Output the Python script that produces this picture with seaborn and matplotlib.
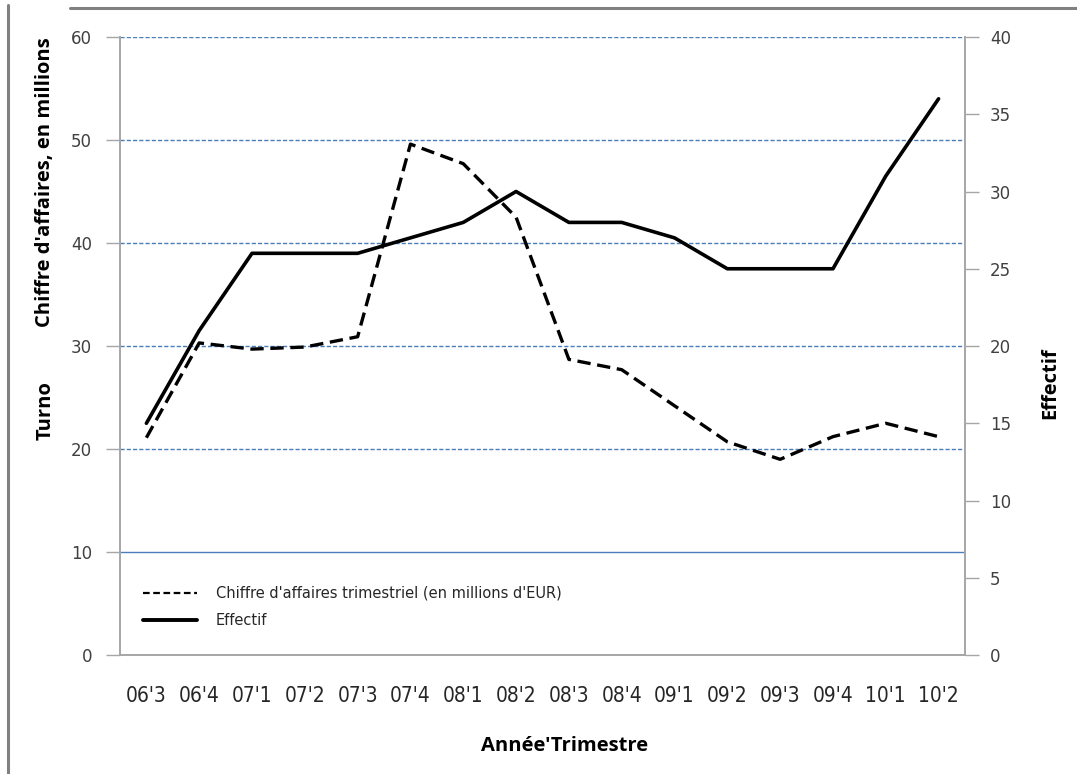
"""Chiffre d'affaires trimestriel et effectif, double axe."""

import numpy as np
import pandas as pd
import seaborn as sns
import matplotlib.pyplot as plt
from matplotlib.lines import Line2D

quarters = ["06'3", "06'4", "07'1", "07'2", "07'3", "07'4", "08'1", "08'2",
            "08'3", "08'4", "09'1", "09'2", "09'3", "09'4", "10'1", "10'2"]
turnover = [21.1, 30.3, 29.7, 29.9, 30.9, 49.6, 47.7, 42.5,
            28.7, 27.7, 24.2, 20.7, 19.0, 21.2, 22.5, 21.2]
headcount = [15, 21, 26, 26, 26, 27, 28, 30, 28, 28, 27, 25, 25, 25, 31, 36]

left_ticks = [0, 10, 20, 30, 40, 50, 60]
right_ticks = [0, 5, 10, 15, 20, 25, 30, 35, 40]

df = pd.DataFrame({"pos": np.arange(len(quarters)), "quarter": quarters,
                   "turnover": turnover, "headcount": headcount})

sns.set_style("white")
plt.rcParams["font.family"] = ["DejaVu Sans"]

fig = plt.figure(figsize=(10.77, 7.74), dpi=100)
ax = fig.add_axes([0.1114, 0.1537, 0.7846, 0.7985])
ax2 = ax.twinx()

axis_grey = "#A6A6A6"
grid_blue = "#4A7EBB"

sns.lineplot(data=df, x="pos", y="turnover", ax=ax, color="black",
             linewidth=2.4)
ax.lines[0].set_dashes((4, 2))
sns.lineplot(data=df, x="pos", y="headcount", ax=ax2, color="black",
             linewidth=2.6)

ax.set_xlim(-0.5, len(quarters) - 0.5)
ax.set_ylim(0, 60)
ax2.set_ylim(0, 40)
ax.set_yticks(left_ticks)
ax2.set_yticks(right_ticks)

# category boundaries as tick marks, labels at centres
ax.set_xticks(np.arange(len(quarters) + 1) - 0.5)
ax.set_xticklabels([])
ax.set_xticks(np.arange(len(quarters)), minor=True)
ax.set_xticklabels(quarters, minor=True, fontsize=15, color="#262626",
                   fontstretch="condensed")
ax.tick_params(axis="x", which="major", direction="out", length=8,
               color=axis_grey, width=1)
ax.tick_params(axis="x", which="minor", length=0, pad=22)

ax.tick_params(axis="y", direction="out", length=10, color=axis_grey,
               width=1, labelsize=12, labelcolor="#404040", pad=10)
ax2.tick_params(axis="y", direction="out", length=10, color=axis_grey,
                width=1, labelsize=12, labelcolor="#404040", pad=8)

ax.yaxis.grid(True, color=grid_blue, linestyle=(0, (3, 1.5)), linewidth=1.0)
ax.set_axisbelow(True)
gl = ax.get_ygridlines()
gl[1].set_linestyle("-")
gl[0].set_visible(False)

for a in (ax, ax2):
    a.spines["top"].set_visible(False)
    for s in ("left", "right", "bottom"):
        a.spines[s].set_color(axis_grey)
        a.spines[s].set_linewidth(1.2)
ax.set_xlabel("")
ax.set_ylabel("")
ax2.set_ylabel("")

lab_font = dict(family=["Open Sans", "DejaVu Sans"], fontweight="bold",
                fontsize=14.5, color="black")
fig.text(0.5246, 0.036, "Année'Trimestre", ha="center", va="center", **lab_font)
fig.text(0.042, 0.765, "Chiffre d'affaires, en millions", rotation=90,
         ha="center", va="center", **lab_font)
fig.text(0.042, 0.47, "Turno", rotation=90, ha="center", va="center", **lab_font)
fig.text(0.975, 0.505, "Effectif", rotation=90, ha="center", va="center",
         **lab_font)

handles = [Line2D([], [], color="black", linewidth=1.6, dashes=(3, 1.6)),
           Line2D([], [], color="black", linewidth=2.8)]
ax.legend(handles, ["Chiffre d'affaires trimestriel (en millions d'EUR)",
                    "Effectif"],
          loc="center left", bbox_to_anchor=(0.027, 0.078), frameon=False,
          fontsize=10.5, handlelength=3.7, handletextpad=1.3, labelspacing=0.85,
          borderpad=0, borderaxespad=0)

# grey frame of the original capture
frame = "#808080"
fig.add_artist(Line2D([0.0075, 0.0075], [0.0, 0.994], color=frame, linewidth=2.2,
                      transform=fig.transFigure))
fig.add_artist(Line2D([0.065, 1.0], [0.99, 0.99], color=frame, linewidth=2.2,
                      transform=fig.transFigure))

fig.savefig("out.png", dpi=100)
